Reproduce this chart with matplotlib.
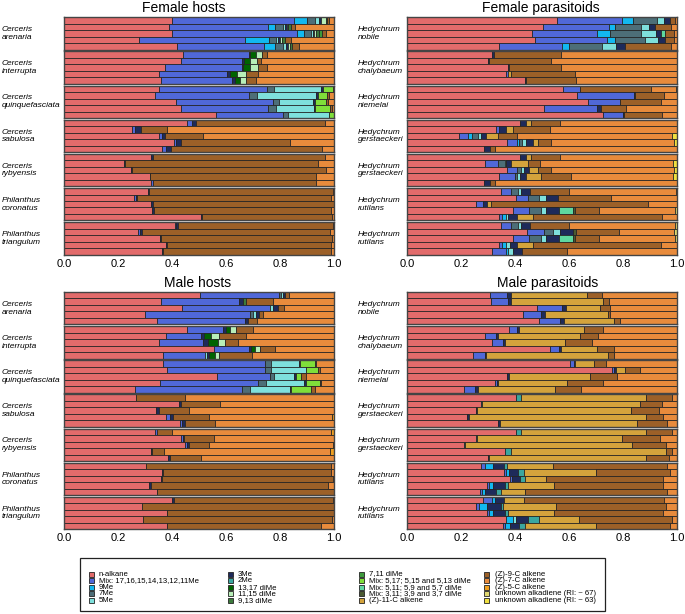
import numpy as np
import matplotlib
matplotlib.use("Agg")
import matplotlib.pyplot as plt
from matplotlib.patches import Rectangle

plt.rcParams["font.family"] = ["Liberation Sans", "DejaVu Sans"]

W, H = 685, 614

# compound classes, in stacking / legend order
keys = ["alk", "mix", "me9", "me7", "me5", "me3", "me2", "d1317", "d1115", "d913",
        "d711", "x517", "x511", "x311", "z11", "z9", "z7", "z5", "u67", "u63"]
labels = ["n-alkane", "Mix: 17,16,15,14,13,12,11Me", "9Me", "7Me", "5Me",
          "3Me", "2Me", "13,17 diMe", "11,15 diMe", "9,13 diMe",
          "7,11 diMe", "Mix: 5,17; 5,15 and 5,13 diMe", "Mix: 5,11; 5,9 and 5,7 diMe",
          "Mix: 3,11; 3,9 and 3,7 diMe", "(Z)-11-C alkene",
          "(Z)-9-C alkene", "(Z)-7-C alkene", "(Z)-5-C alkene",
          "unknown alkadiene (RI: ~ 67)", "unknown alkadiene (RI: ~ 63)"]
colors = ["#E26B6B", "#5068D8", "#12B8F0", "#4D6E78", "#7EE0DC",
          "#1E2A5A", "#3AA6A0", "#006400", "#B8EEB8", "#3C7A3C",
          "#3D9A3D", "#7FDF3A", "#5ED8A0", "#4A5A32", "#D4A33C",
          "#9C6028", "#E88B3C", "#F0A020", "#E0D870", "#F0E040"]

host_species = ["Cerceris\narenaria", "Cerceris\ninterrupta", "Cerceris\nquinquefasciata",
                "Cerceris\nsabulosa", "Cerceris\nrybyensis", "Philanthus\ncoronatus",
                "Philanthus\ntriangulum"]
para_species = ["Hedychrum\nnobile", "Hedychrum\nchalybaeum", "Hedychrum\nniemelai",
                "Hedychrum\ngerstaeckeri", "Hedychrum\ngerstaeckeri", "Hedychrum\nrutilans",
                "Hedychrum\nrutilans"]

# relative abundances (%) per individual, 5 individuals per species
female_hosts = [
    [dict(alk=40, mix=45, me9=5, me7=3, me5=1.5, me3=0.5, d1115=2, d913=0.5, z9=0.5, z7=2),
     dict(alk=39, mix=36.5, me9=2.5, me7=3, me5=1, me3=0.5, d1115=0.5, d913=1, z9=1.5, z7=14.5),
     dict(alk=40, mix=46.3, me9=2.7, me7=2.5, me5=0.7, me3=0.3, d1115=1, d913=1, d711=1, z9=1.5, z7=3),
     dict(alk=27.8, mix=39.2, me9=9, me7=2.4, me5=1, me3=0.5, d1115=1, d913=1, z9=2.3, z7=15.8),
     dict(alk=41.7, mix=32.3, me9=4, me7=3, me5=1.3, me3=0.5, d1115=1, d913=0.5, z9=2.7, z7=13)],
    [dict(alk=44, mix=24.5, me3=0.5, d1317=2, d1115=2.2, d913=0.3, z9=1.5, z7=25),
     dict(alk=43.5, mix=22.3, me3=0.9, d1317=2.3, d1115=2.5, z9=1.5, z7=27),
     dict(alk=37.5, mix=28.3, me3=0.5, d1317=2.7, d1115=3, z9=3, z7=25),
     dict(alk=35.2, mix=25.2, me3=1, d1317=2.6, d1115=3.5, z9=4.5, z7=28),
     dict(alk=36, mix=26.2, me3=1, d1317=2, d1115=2.3, z9=3.7, z7=28.8)],
    [dict(alk=35, mix=40.2, me7=2.4, me5=17.7, me3=0.6, x517=3.8, z7=0.3),
     dict(alk=33.7, mix=34.8, me7=3.1, me5=21.6, me3=0.8, x517=3.5, z9=0.5, z7=2),
     dict(alk=41.6, mix=35.8, me7=2.2, me5=12.6, me3=0.6, x517=4.2, z9=0.8, z7=2.2),
     dict(alk=43.5, mix=32.1, me7=3, me5=13.9, me3=0.5, x517=5.7, z9=0.6, z7=0.7),
     dict(alk=56.4, mix=24.7, me7=1.9, me5=15, me3=0.3, x517=1.7)],
    [dict(alk=45.6, mix=1.9, me3=1.5, z9=47.7, z7=3.3),
     dict(alk=25.3, mix=0.9, me3=2.3, z9=9.8, z7=61.7),
     dict(alk=35.2, mix=1.1, me3=1.2, z9=14, z7=48.5),
     dict(alk=40.6, mix=1, me3=1.6, z9=40.4, z7=16.4),
     dict(alk=36.3, mix=1.3, me3=2.2, z9=55.9, z7=4.3)],
    [dict(alk=32.3, me3=0.6, z9=63.6, z7=3.5),
     dict(alk=22.2, me3=0.3, z9=71.5, z7=6),
     dict(alk=24.7, me3=0.6, z9=71.9, z7=2.8),
     dict(alk=31.7, me3=0.2, z9=61.3, z7=6.8),
     dict(alk=32.3, mix=0.6, z9=60.6, z7=6.5)],
    [dict(alk=31.1, me3=0.5, z9=68, z7=0.4),
     dict(alk=26, mix=0.6, me3=0.6, z9=71.8, z7=1),
     dict(alk=32.3, me3=0.5, z9=67.2),
     dict(alk=32.7, me3=0.5, z9=65.8, z7=1),
     dict(alk=50.6, me3=0.6, z9=48, z7=0.8)],
    [dict(alk=41, mix=0.6, me3=0.6, z9=57.3, z7=0.5),
     dict(alk=27.4, mix=0.6, me3=1, z9=69.4, z7=1.6),
     dict(alk=35.4, me3=0.7, z9=63.3, z7=0.6),
     dict(alk=37.7, me3=0.6, z9=60.7, z7=1),
     dict(alk=36.4, me3=0.3, z9=62.3, z7=1)],
]

female_parasitoids = [
    [dict(alk=55.4, mix=24.2, me9=4, me7=9, me5=2.6, me3=2.1, z9=1.9, z7=0.8),
     dict(alk=50.5, mix=24.2, me9=2.2, me7=9.6, me5=3, me3=2.2, z9=6, z7=2.3),
     dict(alk=46.3, mix=24.2, me9=4.8, me7=11.5, me5=5.3, me3=2.1, x511=1.5, z9=3.2, z7=1.1),
     dict(alk=47.5, mix=26.7, me9=2.7, me7=11.4, me5=4.7, me3=2.4, z9=3.5, z7=1.1),
     dict(alk=34.1, mix=23.3, me9=2.5, me7=12.3, me5=5.3, me3=3.1, z9=17.1, z7=2.3)],
    [dict(alk=31.5, me3=0.7, z9=25, z7=42.8),
     dict(alk=30, me3=0.3, z9=23.2, z7=46.5),
     dict(alk=37.4, me3=0.5, z9=19.3, z7=42.8),
     dict(alk=36.5, mix=0.9, z11=1.2, z9=23.5, z7=37.9),
     dict(alk=43.6, me3=0.3, z9=18.6, z7=37.5)],
    [dict(alk=57.8, mix=6.4, z9=26.3, z7=9, z5=0.5),
     dict(alk=63, mix=21.1, me3=0.5, z9=10.6, z7=4.8),
     dict(alk=67, mix=11.9, z9=15.1, z7=6),
     dict(alk=50.7, mix=19.7, me3=1.3, z9=9.3, z7=19),
     dict(alk=72.6, mix=7.4, me3=0.5, z9=13.9, z7=5.6)],
    [dict(alk=41.7, me3=2.5, z11=1.8, z9=10.5, z7=43.5),
     dict(alk=33.1, mix=0.9, me3=2.8, z11=2.5, z9=13.5, z7=47.2),
     dict(alk=19.3, mix=3.3, me9=1.6, me7=2.1, me5=1, me3=2.1, z11=4.3, z9=7.2, z7=57.2, u63=1.9),
     dict(alk=37, mix=3.7, me9=0.6, me7=1.4, me5=1.2, me3=2.8, z11=1.8, z9=5, z7=45.4, u63=1.1),
     dict(alk=28.5, me3=2.1, z9=2.1, z7=67.3)],
    [dict(alk=41.7, me3=2.5, z11=1.8, z9=10.5, z7=43.5),
     dict(alk=28.8, mix=4.9, me7=2.5, me5=0.6, me3=1.8, z11=6.2, z9=4.6, z7=49.1, u63=1.5),
     dict(alk=37, mix=3.7, me7=1.6, me5=1.2, me3=1.5, z11=3.5, z9=5, z7=45.4, u63=1.1),
     dict(alk=34.1, mix=5.8, me7=1, me5=0.9, me3=2.4, z11=5.6, z9=11.1, z7=37.6, u63=1.5),
     dict(alk=28.5, me3=2.1, z9=2.1, z7=67.3)],
    [dict(alk=34.7, mix=3.9, me7=2.5, me5=1.2, me3=3.1, z9=14.6, z7=39.5, z5=0.5),
     dict(alk=40.2, mix=4.6, me7=4, me5=2.6, me3=4.5, z9=19.8, z7=24.3),
     dict(alk=25.4, mix=2.7, me3=1.6, z11=1.5, z9=58.1, z7=10.7),
     dict(alk=39.3, mix=5.8, me7=4.4, me5=2.1, me3=4.7, x511=5.2, x311=0.6, z9=8.9, z7=28.1, u67=0.9),
     dict(alk=34.1, mix=0.9, me9=1.6, me5=0.9, me3=3.4, z11=5.8, z9=47.7, z7=5.6)],
    [dict(alk=34.7, mix=3.9, me7=2.5, me5=1, me3=3.3, z9=14.6, z7=39.3, u67=0.7),
     dict(alk=44.6, mix=6.1, me7=3.3, me5=2.5, me3=5, x311=1.2, z9=15.7, z7=20.5, u67=1.1),
     dict(alk=39.3, mix=5.8, me7=4.4, me5=2.1, me3=4.7, x511=5.2, x311=0.6, z9=8.9, z7=28.1, u67=0.9),
     dict(alk=34.1, mix=0.9, me9=1.8, me5=1.5, me3=2.6, z11=5.8, z9=47.5, z7=5.8),
     dict(alk=31.5, mix=5.3, me9=0.6, me5=1.9, me3=3.4, z9=16.7, z7=40.6)],
]

male_hosts = [
    [dict(alk=50.4, mix=29.2, me7=0.9, me5=0.6, me3=0.9, z9=1.3, z7=16.7),
     dict(alk=35.9, mix=28.9, me3=1.5, d913=1, z9=10.1, z7=22.6),
     dict(alk=43.7, mix=32.5, me5=1.2, me3=1.9, z9=2.1, z7=18.6),
     dict(alk=29.9, mix=39.1, me7=1, me5=1.2, me3=1.2, z9=1.3, z7=26.3),
     dict(alk=34.4, mix=32.5, me3=1.2, z9=3.4, z7=28.5)],
    [dict(alk=45.6, mix=13.3, me3=1, d1317=1.7, d1115=2.2, z9=6.2, z7=30),
     dict(alk=37.9, mix=13, me3=1, d1317=2.7, d1115=2.7, z9=10, z7=32.7),
     dict(alk=35.2, mix=16.3, me3=1.8, d1317=3.7, d1115=2.8, z9=4.6, z7=35.6),
     dict(alk=55.6, mix=12.9, me3=0.9, d1317=1.5, d1115=1.6, z9=5.8, z7=21.7),
     dict(alk=36.7, mix=15.4, me5=1, me3=0.6, d1317=2.1, d1115=1.5, z9=12.3, z7=30.4)],
    [dict(alk=36.7, mix=37.9, me7=2.2, me5=10.1, me3=0.4, x517=5.5, z9=0.7, z7=6.5),
     dict(alk=38.1, mix=36.5, me7=2.2, me5=12.7, me3=0.3, x517=4.3, z9=0.6, z7=5.3),
     dict(alk=56.8, mix=19.4, me7=1.5, me5=7.4, me3=0.7, x517=2.1, z9=1.9, z7=10.2),
     dict(alk=35.7, mix=36.2, me7=3, me5=14, me3=0.6, x517=5.2, z9=0.6, z7=4.7),
     dict(alk=26.2, mix=39.7, me7=2.9, me5=15, me3=0.4, x517=7.2, z9=1.4, z7=7.2)],
    [dict(alk=26.8, z9=18.1, z7=55.1),
     dict(alk=42.5, me3=1, z9=14.4, z7=42.1),
     dict(alk=34.2, me3=1, z9=11, z7=53.8),
     dict(alk=37.9, mix=1.2, me3=1.3, z9=13.3, z7=45.6, z5=0.7),
     dict(alk=42.8, mix=1, me3=1.1, z9=11.1, z7=44)],
    [dict(alk=33.6, mix=0.8, z9=5.6, z7=58.8, z5=1.2),
     dict(alk=43.2, mix=0.9, me3=0.4, z9=11.1, z7=44.4),
     dict(alk=44.7, mix=0.9, me3=0.7, z9=7.4, z7=45.8, z5=0.5),
     dict(alk=32.1, me3=0.6, z9=4.3, z7=61.5, z5=1.5),
     dict(alk=38.5, me3=0.6, z9=11.5, z7=49.4)],
    [dict(alk=30.2, z9=68.6, z7=1.2),
     dict(alk=36.4, me3=0.2, z9=62.2, z7=1.2),
     dict(alk=35.9, me3=0.5, z9=63.2, z7=0.4),
     dict(alk=31.5, me3=0.6, z9=65.7, z7=2.2),
     dict(alk=34.4, me3=0.2, z9=65.4)],
    [dict(alk=40, me3=0.8, z9=58.8, z7=0.4),
     dict(alk=28.9, z9=71.1),
     dict(alk=38.1, me3=0.2, z9=61.7),
     dict(alk=29.3, z9=70.1, z7=0.6),
     dict(alk=38.1, me3=0.2, z9=56.7, z7=5)],
]

male_parasitoids = [
    [dict(alk=30.6, mix=6.4, me3=1.4, z11=28.4, z9=5.4, z7=27.8),
     dict(alk=31.2, mix=6.2, me3=1.2, z11=34, z9=2.1, z7=25.3),
     dict(alk=48.3, mix=9.1, me3=1.6, z11=12.4, z9=3.9, z7=24.7),
     dict(alk=43, mix=6.8, me3=1.4, z11=23.2, z9=0.9, z7=24.7),
     dict(alk=48.9, mix=7.6, me3=1.6, z11=18.6, z9=2.1, z7=21.2)],
    [dict(alk=37.8, mix=2.9, me3=0.7, z11=24, z9=7.2, z7=27.4),
     dict(alk=28.8, mix=4.3, me3=0.6, z11=30.3, z9=6.7, z7=29.3),
     dict(alk=31.6, mix=4, me3=0.6, z11=22.4, z9=9.9, z7=31.5),
     dict(alk=53.1, mix=3.2, me3=0.6, z11=13.6, z9=6.2, z7=23.3),
     dict(alk=24.4, mix=4.6, me3=0.4, z11=45, z9=2.3, z7=23.3)],
    [dict(alk=60.5, mix=1.2, me3=0.4, z11=7.2, z9=4.3, z7=26.4),
     dict(alk=75.9, mix=0.7, me3=0.7, z11=3.3, z9=5.8, z7=13.6),
     dict(alk=37.2, me3=0.6, z11=30.1, z9=9.9, z7=22.2),
     dict(alk=32.5, mix=0.9, me3=0.4, z11=25.6, z9=13.2, z7=27.4),
     dict(alk=21.1, mix=4, me3=1.2, z11=28.6, z9=9.4, z7=35.7)],
    [dict(alk=40.5, me2=1.8, z11=46.1, z9=9.9, z7=1.7),
     dict(alk=27.5, me2=0.3, z11=58.4, z9=8.4, z7=5.4),
     dict(alk=25.7, me3=0.4, z11=57, z9=10.2, z7=6.7),
     dict(alk=22.3, me3=0.6, z11=65.7, z9=6.2, z7=5.2),
     dict(alk=33.7, me3=0.9, z11=50.6, z9=11.1, z7=3.7)],
    [dict(alk=40.5, me2=1.8, z11=46.1, z9=9.9, z7=1.7),
     dict(alk=25.7, me2=0.3, z11=53.7, z9=13.9, z7=6.4),
     dict(alk=21.1, me2=0.2, z11=62, z9=12.7, z7=4),
     dict(alk=36.4, me2=2.2, z11=57.2, z9=2.5, z7=1.7),
     dict(alk=30, me3=0.2, z11=58.4, z9=8.4, z7=3)],
    [dict(alk=27.3, mix=1.7, me9=2.9, me3=4.1, me2=1.2, z11=16.9, z9=42.2, z7=3.7),
     dict(alk=35.8, mix=0.7, me9=1.2, me3=3.4, me2=2.1, z11=26.9, z9=27.2, z7=2.7),
     dict(alk=38, mix=0.9, me3=3.1, me2=1.6, z11=7.8, z9=43.4, z7=5.2),
     dict(alk=29.6, mix=0.6, me9=1.7, me3=4.3, me2=1.2, z11=16.9, z9=40.5, z7=5.2),
     dict(alk=26.9, mix=1, me9=0.9, me3=4.3, me2=1.6, z11=9.1, z9=52.5, z7=3.7)],
    [dict(alk=28.1, mix=3.5, me9=0.9, me3=3.5, z11=7.4, z9=51.6, z7=5),
     dict(alk=25.7, mix=1, me9=3.1, me3=5.1, me2=0.5, z11=19.7, z9=40.9, z7=4),
     dict(alk=29.6, mix=0.6, me9=1.7, me3=4.3, me2=1.2, z11=16.9, z9=40.5, z7=5.2),
     dict(alk=36.5, me9=2.8, me5=0.9, me3=4.6, me2=4, z11=14.8, z9=34.5, z7=1.9),
     dict(alk=35.6, mix=0.8, me9=1.6, me3=3.4, me2=2.2, z11=26.5, z9=27.2, z7=2.7)],
]


def fx(px):
    return px / W


def fy(py):
    return 1 - py / H


fig = plt.figure(figsize=(W / 100, H / 100), dpi=100)


def draw_panel(data, species, left, right, top, title, title_x, label_x):
    pitch, gh = 34.15, 32.4
    for g, bars in enumerate(data):
        y0 = top + g * pitch
        ax = fig.add_axes([fx(left), fy(y0 + gh), fx(right - left), gh / H])
        for i, bar in enumerate(bars):
            vals = np.array([bar.get(k, 0) for k in keys], dtype=float)
            vals = vals / vals.sum()
            lefts = np.concatenate([[0], np.cumsum(vals)[:-1]])
            for v, l, c in zip(vals, lefts, colors):
                if v > 0:
                    ax.barh(i, v, left=l, height=1.0, color=c,
                            edgecolor="#222222", linewidth=0.55)
        ax.set_xlim(0, 1)
        ax.set_ylim(4.5, -0.5)
        ax.set_yticks([])
        for s in ax.spines.values():
            s.set_color("#444444")
            s.set_linewidth(1.0)
        if g == len(data) - 1:
            ax.set_xticks([0, 0.2, 0.4, 0.6, 0.8, 1.0])
            ax.set_xticklabels(["0.0", "0.2", "0.4", "0.6", "0.8", "1.0"])
            ax.tick_params(axis="x", length=0, pad=3, labelsize=8)
        else:
            ax.set_xticks([])
        fig.text(fx(label_x), fy(y0 + gh / 2), species[g], fontsize=6,
                 style="italic", ha="left", va="center", linespacing=1.15)
    fig.text(fx(title_x), fy(top - 5), title, fontsize=10, ha="center", va="baseline")


draw_panel(female_hosts, host_species, 64, 334, 17.3, "Female hosts", 184, 2)
draw_panel(female_parasitoids, para_species, 407, 677, 17.3, "Female parasitoids", 541, 358)
draw_panel(male_hosts, host_species, 64, 334, 292, "Male hosts", 198, 2)
draw_panel(male_parasitoids, para_species, 407, 677, 292, "Male parasitoids", 548, 358)

# legend drawn by hand to match the boxed 4-column layout
fig.patches.append(Rectangle((fx(80), fy(611)), fx(605 - 80), (611 - 558) / H,
                             transform=fig.transFigure, fill=False,
                             edgecolor="#222222", linewidth=0.9))
col_x = [91, 230, 361, 487]
row_y = [574, 580.6, 587.2, 593.8, 600.4]
sq = 5
for n, (lab, c) in enumerate(zip(labels, colors)):
    cx, ry = col_x[n // 5], row_y[n % 5]
    fig.patches.append(Rectangle((fx(cx - sq / 2), fy(ry + sq / 2)), sq / W, sq / H,
                                 transform=fig.transFigure, facecolor=c,
                                 edgecolor="#222222", linewidth=0.6))
    fig.text(fx(cx + 8), fy(ry), lab, fontsize=5.6, ha="left", va="center")

fig.savefig("out.png", dpi=100)
